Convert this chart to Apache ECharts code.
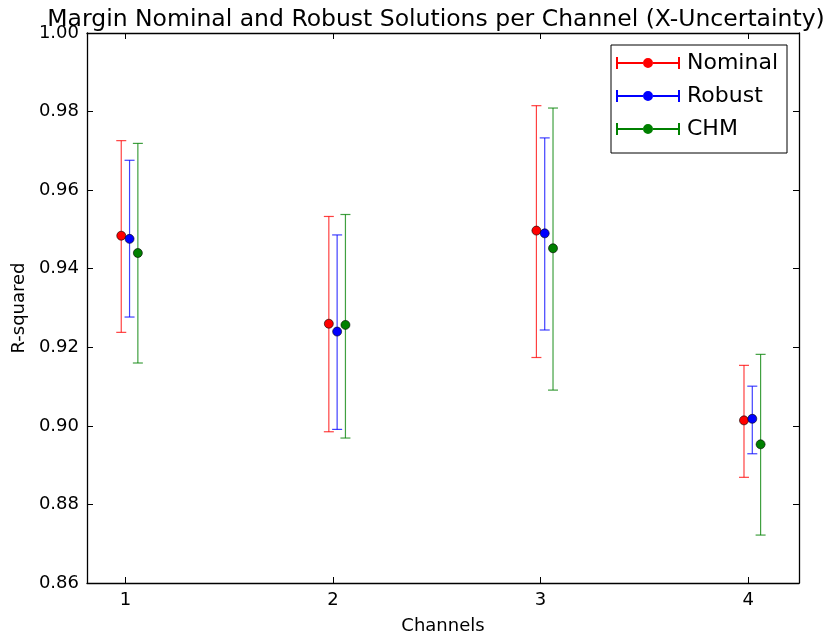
<!DOCTYPE html>
<html>
<head>
<meta charset="utf-8">
<script src="https://cdn.jsdelivr.net/npm/echarts@6/dist/echarts.min.js"></script>
<style>html,body{margin:0;padding:0;background:#fff}#c{width:827px;height:640px}</style>
</head>
<body>
<div id="c"></div>
<script>
var channels = [1, 2, 3, 4];
var seriesNames = ['Nominal', 'Robust', 'CHM'];
var seriesColors = ['#ff0000', '#0000ff', '#008000'];
var xOffsets = [-0.02, 0.02, 0.06];
var nominalMean = [0.9484, 0.9260, 0.9497, 0.9014];
var nominalLow  = [0.9238, 0.8985, 0.9174, 0.8869];
var nominalHigh = [0.9726, 0.9533, 0.9815, 0.9154];
var robustMean = [0.9476, 0.9240, 0.9490, 0.9018];
var robustLow  = [0.9277, 0.8991, 0.9244, 0.8929];
var robustHigh = [0.9676, 0.9486, 0.9733, 0.9101];
var chmMean = [0.9440, 0.9257, 0.9452, 0.8953];
var chmLow  = [0.9160, 0.8969, 0.9091, 0.8722];
var chmHigh = [0.9719, 0.9538, 0.9809, 0.9182];
var yTicks = [0.86, 0.88, 0.90, 0.92, 0.94, 0.96, 0.98, 1.00];

var means = [nominalMean, robustMean, chmMean];
var lows = [nominalLow, robustLow, chmLow];
var highs = [nominalHigh, robustHigh, chmHigh];

var FONT = 'DejaVu Sans';
var legendIcon = 'path://M0 0H2V12H0Z M62 0H64V12H62Z M2 5H27V7H2Z M37 5H62V7H37Z M27 6A5 5 0 1 0 37 6A5 5 0 1 0 27 6Z';

var series = [];
seriesNames.forEach(function (name, s) {
  var errData = channels.map(function (c, i) { return [c + xOffsets[s], lows[s][i], highs[s][i]]; });
  series.push({
    type: 'custom',
    name: name,
    xAxisIndex: 0, yAxisIndex: 0,
    data: errData,
    z: 2,
    renderItem: function (params, api) {
      var x = api.value(0);
      var lo = api.coord([x, api.value(1)]);
      var hi = api.coord([x, api.value(2)]);
      var cw = 5;
      var st = { stroke: seriesColors[s], lineWidth: 1.2, opacity: 0.75 };
      return {
        type: 'group',
        children: [
          { type: 'line', shape: { x1: lo[0], y1: lo[1], x2: hi[0], y2: hi[1] }, style: st },
          { type: 'line', shape: { x1: lo[0] - cw, y1: lo[1], x2: lo[0] + cw, y2: lo[1] }, style: st },
          { type: 'line', shape: { x1: hi[0] - cw, y1: hi[1], x2: hi[0] + cw, y2: hi[1] }, style: st }
        ]
      };
    },
    silent: true
  });
  series.push({
    type: 'scatter',
    name: name,
    xAxisIndex: 0, yAxisIndex: 0,
    data: channels.map(function (c, i) { return [c + xOffsets[s], means[s][i]]; }),
    symbol: 'circle',
    symbolSize: 9,
    z: 3,
    itemStyle: { color: seriesColors[s], borderColor: '#000', borderWidth: 0.6, opacity: 1 }
  });
});

var chart = echarts.init(document.getElementById('c'), null, { renderer: 'canvas' });
chart.setOption({
  animation: false,
  backgroundColor: '#fff',
  color: seriesColors,
  title: {
    text: 'Margin Nominal and Robust Solutions per Channel (X-Uncertainty)',
    left: 431, top: 3, textAlign: 'center',
    textStyle: { fontFamily: FONT, fontSize: 23.5, fontWeight: 'normal', color: '#000' }
  },
  grid: { left: 87, top: 33, right: 28, bottom: 56, containLabel: false, show: false },
  legend: {
    orient: 'vertical',
    right: 40, top: 45,
    data: seriesNames.map(function (n, i) { return { name: n, icon: legendIcon, itemStyle: { color: seriesColors[i] } }; }),
    itemWidth: 64, itemHeight: 12, itemGap: 11,
    padding: [7, 9, 13, 5],
    borderColor: '#000', borderWidth: 1, borderRadius: 0,
    backgroundColor: '#fff',
    textStyle: { fontFamily: FONT, fontSize: 22, color: '#000', padding: [0, 0, 0, 2] },
    selectedMode: false
  },
  xAxis: [{
    type: 'value', min: 0.815, max: 4.245,
    position: 'bottom',
    name: 'Channels', nameLocation: 'middle', nameGap: 34,
    nameTextStyle: { fontFamily: FONT, fontSize: 18, color: '#000' },
    axisLine: { show: true, onZero: false, lineStyle: { color: '#000', width: 1.3 } },
    axisTick: { show: true, inside: true, length: 6, customValues: channels, lineStyle: { color: '#000' } },
    axisLabel: { customValues: channels, fontFamily: FONT, fontSize: 18, color: '#000', margin: 8 },
    splitLine: { show: false }
  }, {
    type: 'value', min: 0.815, max: 4.245,
    position: 'top',
    axisLine: { show: true, onZero: false, lineStyle: { color: '#000', width: 1.3 } },
    axisTick: { show: true, inside: true, length: 6, customValues: channels, lineStyle: { color: '#000' } },
    axisLabel: { show: false },
    splitLine: { show: false }
  }],
  yAxis: [{
    type: 'value', min: 0.86, max: 1.0, interval: 0.02,
    position: 'left',
    name: 'R-squared', nameLocation: 'middle', nameGap: 58, nameRotate: 90,
    nameTextStyle: { fontFamily: FONT, fontSize: 18, color: '#000' },
    axisLine: { show: true, onZero: false, lineStyle: { color: '#000', width: 1.3 } },
    axisTick: { show: true, inside: true, length: 6, lineStyle: { color: '#000' } },
    axisLabel: { fontFamily: FONT, fontSize: 18, color: '#000', margin: 8, formatter: function (v) { return v.toFixed(2); } },
    splitLine: { show: false }
  }, {
    type: 'value', min: 0.86, max: 1.0, interval: 0.02,
    position: 'right',
    axisLine: { show: true, onZero: false, lineStyle: { color: '#000', width: 1.3 } },
    axisTick: { show: true, inside: true, length: 6, lineStyle: { color: '#000' } },
    axisLabel: { show: false },
    splitLine: { show: false }
  }],
  series: series
});
</script>
</body>
</html>
